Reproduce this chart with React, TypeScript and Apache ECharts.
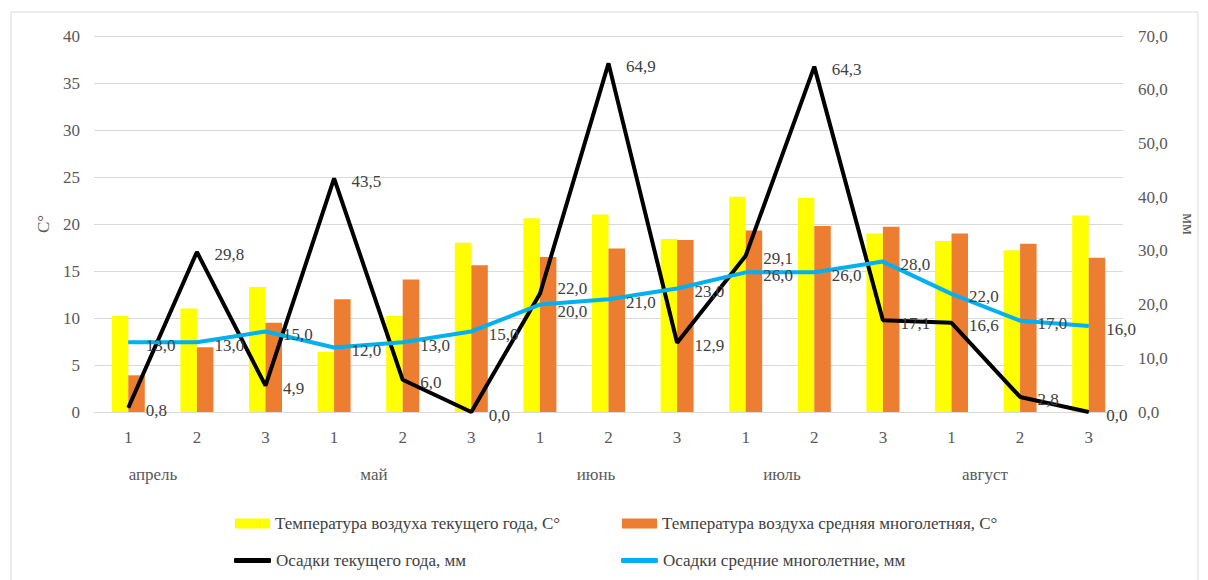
import React, { useEffect, useRef } from "react";
import * as echarts from "echarts";

const categories = ["1", "2", "3", "1", "2", "3", "1", "2", "3", "1", "2", "3", "1", "2", "3"];
const months = ["апрель", "май", "июнь", "июль", "август"];
const tempCurrent = [10.2, 11.0, 13.3, 6.4, 10.2, 18.0, 20.6, 21.0, 18.4, 22.9, 22.8, 19.0, 18.2, 17.2, 20.9];
const tempAverage = [3.9, 6.9, 9.5, 12.0, 14.1, 15.6, 16.5, 17.4, 18.3, 19.3, 19.8, 19.7, 19.0, 17.9, 16.4];
const precipCurrent = [0.8, 29.8, 4.9, 43.5, 6.0, 0.0, 22.0, 64.9, 12.9, 29.1, 64.3, 17.1, 16.6, 2.8, 0.0];
const precipAverage = [13.0, 13.0, 15.0, 12.0, 13.0, 15.0, 20.0, 21.0, 23.0, 26.0, 26.0, 28.0, 22.0, 17.0, 16.0];

const names = [
  "Температура воздуха текущего года, С°",
  "Температура воздуха средняя многолетняя, С°",
  "Осадки текущего года, мм",
  "Осадки средние многолетние, мм",
];

const FONT = "Liberation Serif";
const FS = 17;
const monthX = [153, 374, 596, 782, 985];

export default function App() {
  const ref = useRef<HTMLDivElement>(null);
  useEffect(() => {
    if (!ref.current) return;
    const chart = echarts.init(ref.current, null, { renderer: "svg" });
    const labelStyle = {
      show: true,
      position: "right" as const,
      distance: 17,
      offset: [0, 3],
      color: "#404040",
      fontFamily: FONT,
      fontSize: FS,
      formatter: (p: any) => Number(p.value).toFixed(1).replace(".", ","),
    };
    // small nudges for the two labels that sit on top of each other (June, 1st decade)
    const blackData = precipCurrent.map((v, i) =>
      i === 6 ? { value: v, label: { offset: [0, -5] } } : v
    );
    const blueData = precipAverage.map((v, i) =>
      i === 6 ? { value: v, label: { offset: [0, 7] } } : v
    );
    const legendText = { color: "#404040", fontFamily: FONT, fontSize: FS };
    const legendBase = { padding: 0, itemGap: 0, textStyle: legendText };
    chart.setOption({
      animation: false,
      backgroundColor: "#ffffff",
      textStyle: { fontFamily: FONT },
      grid: { left: 94, right: 85, top: 36, bottom: 168 },
      legend: [
        { ...legendBase, data: [names[0]], left: 235, top: 515, icon: "rect", itemWidth: 35, itemHeight: 10 },
        { ...legendBase, data: [names[1]], left: 622, top: 515, icon: "rect", itemWidth: 35, itemHeight: 10 },
        { ...legendBase, data: [names[2]], left: 234, top: 552, icon: "roundRect", itemWidth: 37, itemHeight: 5 },
        { ...legendBase, data: [names[3]], left: 621, top: 552, icon: "roundRect", itemWidth: 37, itemHeight: 5 },
      ],
      xAxis: {
        type: "category",
        data: categories,
        axisLine: { lineStyle: { color: "#d9d9d9" } },
        axisTick: { show: false },
        axisLabel: { color: "#595959", fontFamily: FONT, fontSize: FS, margin: 17 },
      },
      yAxis: [
        {
          type: "value",
          min: 0,
          max: 40,
          interval: 5,
          name: "С°",
          nameLocation: "middle",
          nameRotate: 90,
          nameGap: 38,
          nameTextStyle: { color: "#595959", fontFamily: FONT, fontSize: FS },
          axisLabel: { color: "#595959", fontFamily: FONT, fontSize: FS, margin: 14 },
          splitLine: { lineStyle: { color: "#d9d9d9", width: 1 } },
          axisLine: { show: false },
          axisTick: { show: false },
        },
        {
          type: "value",
          min: 0,
          max: 70,
          interval: 10,
          name: "мм",
          nameLocation: "middle",
          nameRotate: -90,
          nameGap: 57,
          nameTextStyle: { color: "#595959", fontFamily: FONT, fontSize: FS },
          axisLabel: {
            color: "#595959",
            fontFamily: FONT,
            fontSize: FS,
            margin: 15,
            formatter: (v: number) => v.toFixed(1).replace(".", ","),
          },
          splitLine: { show: false },
          axisLine: { show: false },
          axisTick: { show: false },
        },
      ],
      series: [
        { name: names[0], type: "bar", data: tempCurrent, yAxisIndex: 0, barWidth: 16.5, barGap: "0%", itemStyle: { color: "#FFFF00" } },
        { name: names[1], type: "bar", data: tempAverage, yAxisIndex: 0, barWidth: 16.5, barGap: "0%", itemStyle: { color: "#ED7D31" } },
        {
          name: names[2], type: "line", data: blackData, yAxisIndex: 1,
          symbol: "circle", symbolSize: 1, showSymbol: true,
          lineStyle: { color: "#000000", width: 4 }, itemStyle: { color: "#000000" },
          label: labelStyle, z: 3,
        },
        {
          name: names[3], type: "line", data: blueData, yAxisIndex: 1,
          symbol: "circle", symbolSize: 1, showSymbol: true,
          lineStyle: { color: "#00B0F0", width: 4 }, itemStyle: { color: "#00B0F0" },
          label: labelStyle, z: 4,
        },
      ],
      graphic: [
        { type: "rect", shape: { x: 11, y: 12, width: 1187, height: 620 }, style: { fill: "none", stroke: "#d9d9d9", lineWidth: 1 }, silent: true, z: -10 },
        ...months.map((m, i) => ({
          type: "text", x: monthX[i], y: 474,
          style: { text: m, fill: "#595959", fontSize: FS, fontFamily: FONT, align: "center", verticalAlign: "middle" },
        })),
      ],
    });
    return () => chart.dispose();
  }, []);
  return <div ref={ref} style={{ position: "absolute", left: 0, top: 0, width: 1208, height: 580 }} />;
}
